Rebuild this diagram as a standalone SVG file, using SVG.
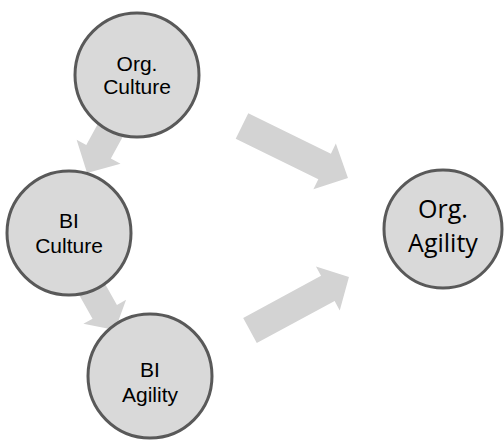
<svg xmlns="http://www.w3.org/2000/svg" width="504" height="442" viewBox="0 0 504 442">
<style>
.arrow{fill:#d3d3d3;stroke:none}
.node circle{fill:#d9d9d9;stroke:#595959;stroke-width:3}
.lbl{font-family:"Liberation Sans",Arial,sans-serif;font-size:21px;fill:#000;text-anchor:middle}
.lbl2{font-family:"Open Sans","Noto Sans",sans-serif;font-size:25px;fill:#000;text-anchor:middle}
</style>
<rect width="504" height="442" fill="#fff"/>
<g id="connectors">
<polygon class="arrow" transform="translate(242,126) rotate(26.1)" points="0,-14.3 92,-14.3 92,-25.5 118,0 92,25.5 92,14.3 0,14.3"/>
<polygon class="arrow" transform="translate(250,330.5) rotate(-28.4)" points="0,-14.3 88.5,-14.3 88.5,-25 112.5,0 88.5,25 88.5,14.3 0,14.3"/>
<polygon class="arrow" transform="translate(115.8,120.2) rotate(118.6)" points="0,-14 36,-14 36,-25 60,0 36,25 36,14 0,14"/>
<polygon class="arrow" transform="translate(85.6,277.8) rotate(60.6)" points="0,-14 39,-14 39,-24.5 60,0 39,24.5 39,14 0,14"/>
</g>
<g id="org-culture" class="node">
<circle cx="137" cy="75" r="62"/>
<text class="lbl" x="137" y="71">Org.</text>
<text class="lbl" x="137" y="94">Culture</text>
</g>
<g id="bi-culture" class="node">
<circle cx="69" cy="233" r="62"/>
<text class="lbl" x="69" y="228">BI</text>
<text class="lbl" x="69" y="253">Culture</text>
</g>
<g id="bi-agility" class="node">
<circle cx="150" cy="376" r="62"/>
<text class="lbl" x="150" y="377">BI</text>
<text class="lbl" x="150" y="402">Agility</text>
</g>
<g id="org-agility" class="node">
<circle cx="443" cy="229" r="59"/>
<text class="lbl2" x="443" y="218">Org.</text>
<text class="lbl2" x="443" y="252">Agility</text>
</g>
</svg>
